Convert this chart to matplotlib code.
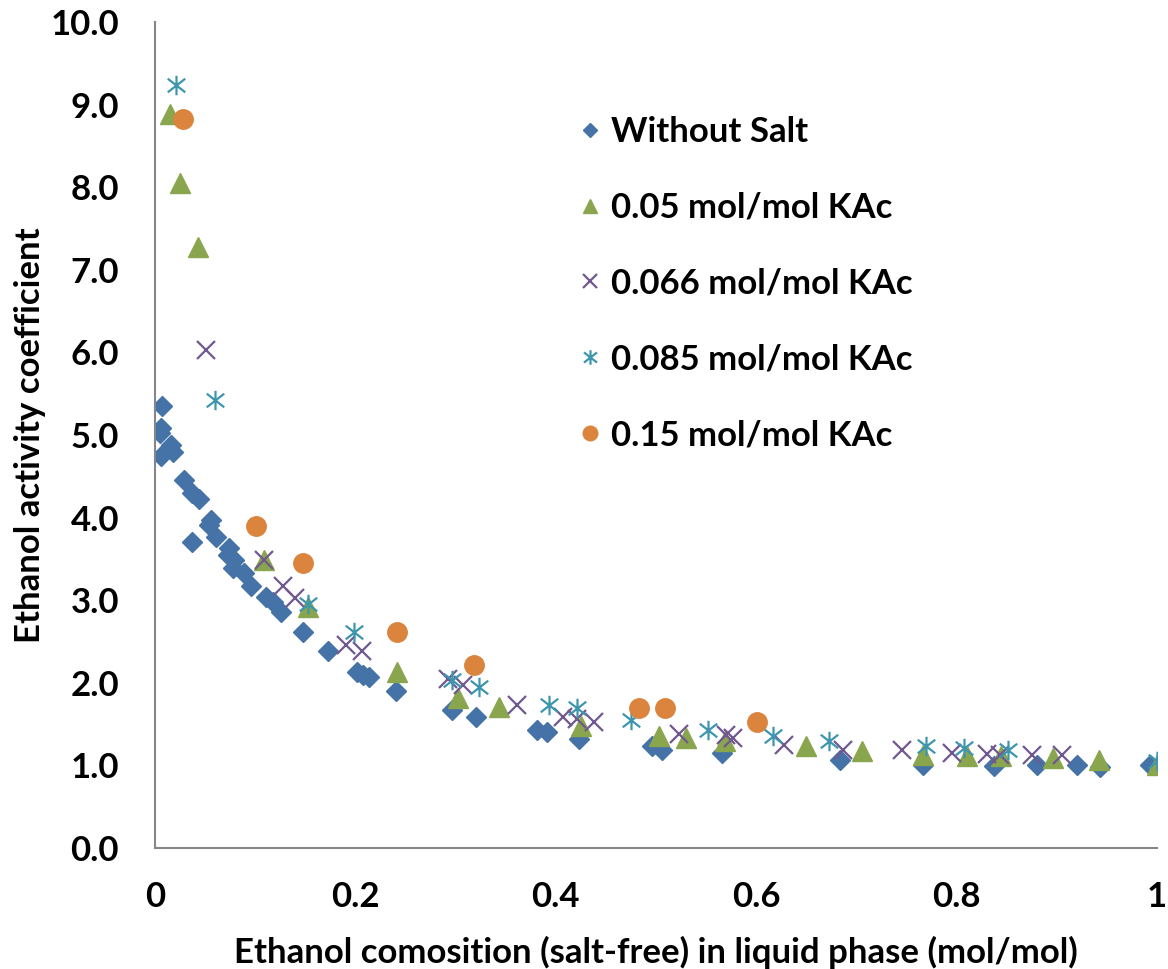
import numpy as np
import matplotlib.pyplot as plt
from matplotlib.path import Path

# ethanol composition (x) and activity coefficient (y)
no_salt_x = [0.007, 0.0055, 0.0045, 0.016, 0.018, 0.0055, 0.029, 0.037, 0.044, 0.056,
             0.054, 0.061, 0.037, 0.074, 0.073, 0.079, 0.078, 0.089, 0.096, 0.111,
             0.118, 0.126, 0.148, 0.173, 0.202, 0.208, 0.214, 0.241, 0.296, 0.320,
             0.381, 0.391, 0.423, 0.496, 0.506, 0.566, 0.684, 0.766, 0.837, 0.880,
             0.920, 0.943, 0.993]
no_salt_y = [5.35, 5.08, 5.02, 4.88, 4.80, 4.75, 4.46, 4.30, 4.23, 3.97,
             3.91, 3.77, 3.71, 3.63, 3.55, 3.49, 3.39, 3.33, 3.17, 3.04,
             2.98, 2.86, 2.62, 2.39, 2.13, 2.10, 2.07, 1.90, 1.67, 1.58,
             1.43, 1.41, 1.32, 1.23, 1.19, 1.15, 1.07, 1.00, 0.99, 1.00,
             1.00, 0.98, 1.00]

kac005_x = [0.0145, 0.025, 0.043, 0.109, 0.153, 0.242, 0.302, 0.343, 0.425, 0.503,
            0.530, 0.569, 0.650, 0.706, 0.766, 0.810, 0.844, 0.896, 0.942, 0.9995]
kac005_y = [8.89, 8.05, 7.28, 3.49, 2.92, 2.13, 1.81, 1.71, 1.48, 1.35,
            1.33, 1.29, 1.23, 1.17, 1.13, 1.11, 1.11, 1.09, 1.07, 1.00]

kac0066_x = [0.051, 0.109, 0.128, 0.140, 0.191, 0.207, 0.292, 0.307, 0.361, 0.407,
             0.421, 0.438, 0.523, 0.570, 0.577, 0.628, 0.687, 0.745, 0.795, 0.830,
             0.843, 0.875, 0.905]
kac0066_y = [6.03, 3.49, 3.17, 3.03, 2.46, 2.38, 2.05, 1.97, 1.73, 1.59,
             1.56, 1.53, 1.38, 1.37, 1.33, 1.25, 1.19, 1.19, 1.15, 1.14,
             1.13, 1.13, 1.13]

kac0085_x = [0.021, 0.060, 0.153, 0.199, 0.296, 0.323, 0.393, 0.421, 0.475, 0.552,
             0.617, 0.673, 0.769, 0.807, 0.851, 0.9995]
kac0085_y = [9.24, 5.42, 2.95, 2.62, 2.03, 1.95, 1.73, 1.69, 1.55, 1.43,
             1.35, 1.29, 1.23, 1.21, 1.19, 1.05]

kac015_x = [0.028, 0.101, 0.148, 0.242, 0.318, 0.483, 0.509, 0.601]
kac015_y = [8.83, 3.90, 3.45, 2.62, 2.22, 1.69, 1.70, 1.52]

labels = ['Without Salt', '0.05 mol/mol KAc', '0.066 mol/mol KAc',
          '0.085 mol/mol KAc', '0.15 mol/mol KAc']
x_ticks = [0, 0.2, 0.4, 0.6, 0.8, 1.0]
x_tick_labels = ['0', '0.2', '0.4', '0.6', '0.8', '1']
y_ticks = np.arange(0, 10.5, 1.0)

# excel style star: vertical bar plus an x
star = Path([(0, 1), (0, -1), (-0.9, 0.7), (0.9, -0.7), (-0.9, -0.7), (0.9, 0.7)],
            [Path.MOVETO, Path.LINETO, Path.MOVETO, Path.LINETO, Path.MOVETO, Path.LINETO])

plt.rcParams['font.family'] = ['Lato', 'DejaVu Sans']
plt.rcParams['font.weight'] = 'bold'
fs = 25

fig = plt.figure(figsize=(11.68, 9.69), dpi=100)
ax = fig.add_axes([0.1327, 0.1249, 0.8579, 0.8524])

ax.plot(no_salt_x, no_salt_y, 'D', ms=10, color='#4572A7', mec='#4572A7', label=labels[0])
ax.plot(kac005_x, kac005_y, '^', ms=14, color='#89A54E', mec='#89A54E', label=labels[1])
ax.plot(kac0066_x, kac0066_y, 'x', ms=13, mew=1.6, color='#71588F', label=labels[2])
ax.plot(kac0085_x, kac0085_y, ls='none', marker=star, ms=14, mew=1.6, color='#3D96AE',
        label=labels[3])
ax.plot(kac015_x, kac015_y, 'o', ms=14, color='#DB843D', mec='#DB843D', label=labels[4])

ax.set_xlim(0, 1)
ax.set_ylim(0, 10)
ax.set_xticks(x_ticks)
ax.set_xticklabels(x_tick_labels)
ax.set_yticks(y_ticks)
ax.set_yticklabels(['%.1f' % v for v in y_ticks])
ax.tick_params(axis='both', length=0, labelsize=fs)
ax.tick_params(axis='x', pad=23.5)
ax.tick_params(axis='y', pad=26)

for s in ['top', 'right']:
    ax.spines[s].set_visible(False)
for s in ['left', 'bottom']:
    ax.spines[s].set_color('#868686')
    ax.spines[s].set_linewidth(1.5)

ax.set_xlabel('Ethanol comosition (salt-free) in liquid phase (mol/mol)', fontsize=fs,
              fontweight='bold')
ax.set_ylabel('Ethanol activity coefficient', fontsize=fs, fontweight='bold')
ax.xaxis.set_label_coords(0.5, -0.106)
ax.yaxis.set_label_coords(-0.109, 0.5)

ax.legend(loc='upper left', bbox_to_anchor=(0.393, 0.924), frameon=False, fontsize=fs,
          markerscale=0.75, handlelength=0.6, handletextpad=0.3, labelspacing=1.26)

fig.savefig('out.png', dpi=100)
